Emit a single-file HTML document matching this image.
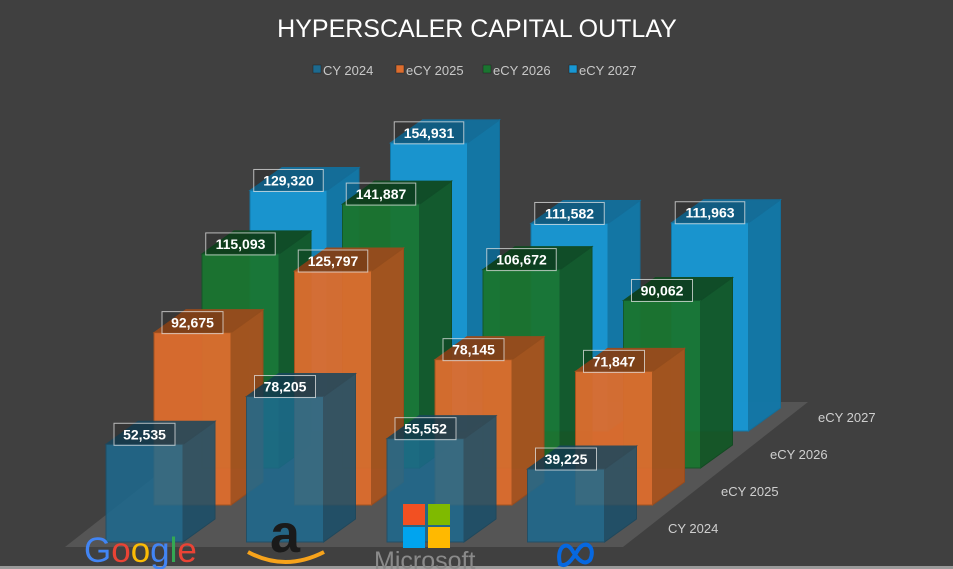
<!DOCTYPE html>
<html><head><meta charset="utf-8"><style>
html,body{margin:0;padding:0;background:#404040;}
svg{display:block;font-family:"Liberation Sans",sans-serif;}
</style></head><body>
<svg id="c" width="953" height="569" viewBox="0 0 953 569" xmlns="http://www.w3.org/2000/svg">
<rect x="0" y="0" width="953" height="569" fill="#404040"/>
<text x="477" y="37" text-anchor="middle" font-size="25" fill="#ffffff">HYPERSCALER CAPITAL OUTLAY</text>
<polygon points="65,547 623,547 808,402 250,402" fill="#555555"/>
<rect x="0" y="566" width="953" height="3" fill="#9a9a9a"/>
<g id="legend"></g>
<g id="bars"></g>
<g id="rowlabels"></g>
<g id="logos">
  <text x="84" y="562" font-size="35" font-family="Liberation Sans,sans-serif"><tspan fill="#4285F4">G</tspan><tspan fill="#EA4335">o</tspan><tspan fill="#FBBC05">o</tspan><tspan fill="#4285F4">g</tspan><tspan fill="#34A853">l</tspan><tspan fill="#EA4335">e</tspan></text>
  <text x="270" y="552" font-size="54" font-weight="bold" fill="#1a1a1a">a</text>
  <path d="M248,552 Q285,572 324,552" stroke="#f7a31b" stroke-width="4" fill="none"/>
  <g>
    <rect x="403" y="504" width="22" height="21" fill="#f25022"/>
    <rect x="428" y="504" width="22" height="21" fill="#7fba00"/>
    <rect x="403" y="527" width="22" height="21" fill="#00a4ef"/>
    <rect x="428" y="527" width="22" height="21" fill="#ffb900"/>
    <text x="374" y="569" font-size="25" fill="#8a8a8a">Microsoft</text>
  </g>
  <path d="M560,564 C556,548 566,540 572,550 C578,560 584,566 590,560 C596,548 586,538 578,550 C572,560 566,568 560,564 Z" stroke="#0668E1" stroke-width="4" fill="none"/>
</g>
</svg>
<script>
const companies = ["Google","Amazon","Microsoft","Meta"];
const years = ["CY 2024","eCY 2025","eCY 2026","eCY 2027"];
const cy2024 = [52535, 78205, 55552, 39225];
const ecy2025 = [92675, 125797, 78145, 71847];
const ecy2026 = [115093, 141887, 106672, 90062];
const ecy2027 = [129320, 154931, 111582, 111963];
const series = [cy2024, ecy2025, ecy2026, ecy2027];

const NS = "http://www.w3.org/2000/svg";
const gBars = document.getElementById("bars");
const gLeg = document.getElementById("legend");
const gRow = document.getElementById("rowlabels");
const cols = [
 {front:"#1d6a8f", side:"#1a4f6a", top:"#17465e", op:0.85},
 {front:"#dd6d2e", side:"#a9531f", top:"#9a4b1c", op:0.95},
 {front:"#1a7530", side:"#135726", top:"#104a20", op:0.95},
 {front:"#1897d3", side:"#1278a8", top:"#136f9b", op:0.97}
];
const W = 77, DX = 32, DY = -23;
function xPos(ci, r){ return 106 + ci*140.5 + r*48; }
function yBase(r){ return 542 - r*37; }
function hOf(v){ return v/1000*1.86; }
function mk(tag, attrs, parent){ const e=document.createElementNS(NS,tag); for(const k in attrs) e.setAttribute(k, attrs[k]); parent.appendChild(e); return e; }

const legX = [313, 396, 483, 569];
years.forEach((y,i)=>{
  const g = mk("g", {}, gLeg);
  
  
  mk("rect",{x:legX[i],y:65,width:8,height:8,fill:cols[i].front,stroke:"#222","stroke-width":0.5},g);
  const t = mk("text",{x:legX[i]+10,y:75,"font-size":13,fill:"#c8c8c8"},g);
  t.textContent = y;
});

const rowLblX = [668, 721, 770, 818];
years.forEach((y,r)=>{
  const t = mk("text",{x:rowLblX[r],y:533-r*37,"font-size":13,fill:"#cfcfcf"},gRow);
  
  
  t.textContent = y;
});

const labels = [];
for(let r=3;r>=0;r--){
  for(let ci=0;ci<companies.length;ci++){
    const v = series[r][ci];
    const x = xPos(ci,r), yb = yBase(r), yt = yb - hOf(v);
    const c = cols[r];
    const g = mk("g",{opacity:c.op},gBars);
    
    
    mk("polygon",{points:`${x+W},${yt} ${x+W+DX},${yt+DY} ${x+W+DX},${yb+DY} ${x+W},${yb}`,fill:c.side,stroke:c.top,"stroke-width":1},g);
    mk("polygon",{points:`${x},${yt} ${x+DX},${yt+DY} ${x+W+DX},${yt+DY} ${x+W},${yt}`,fill:c.top,stroke:c.top,"stroke-width":1},g);
    mk("rect",{x:x,y:yt,width:W,height:yb-yt,fill:c.front,stroke:c.side,"stroke-width":1},g);
    labels.push({x:x+W/2, y:yt-10, v:v});
  }
  labels.splice(0).forEach(l=>{
    const txt = l.v.toLocaleString("en-US");
    const w = txt.length*8.5+10;
    const g = mk("g",{},gBars);
    
    
    mk("rect",{x:l.x-w/2,y:l.y-11,width:w,height:22,fill:"rgba(0,0,0,0.15)",stroke:"rgba(230,230,230,0.75)","stroke-width":1},g);
    const t = mk("text",{x:l.x,y:l.y+5,"text-anchor":"middle","font-size":14,"font-weight":"bold",fill:"#ffffff"},g);
    t.textContent = txt;
  });
}
</script>
</body></html>
